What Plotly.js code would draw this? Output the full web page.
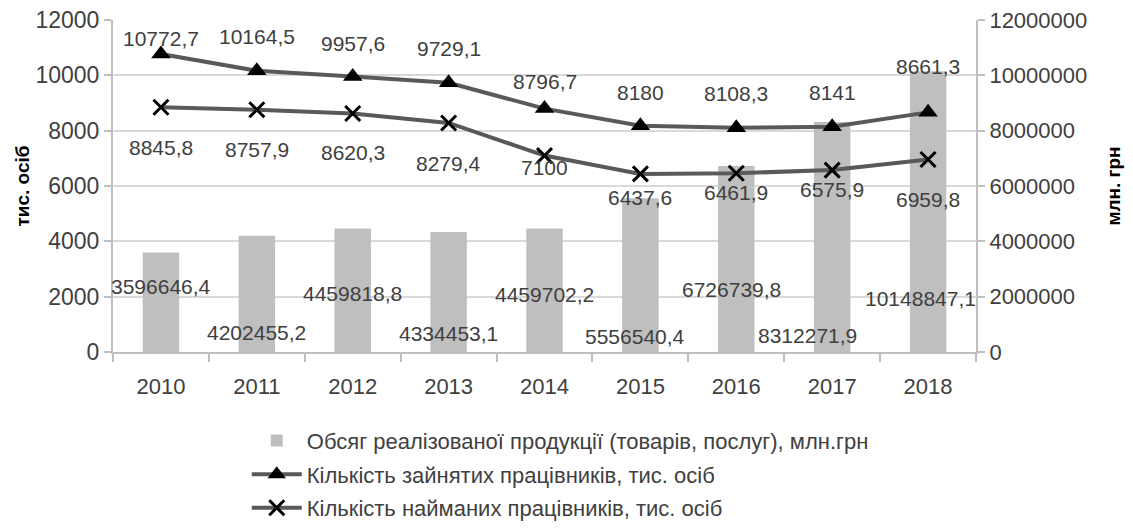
<!DOCTYPE html>
<html>
<head>
<meta charset="utf-8">
<script src="https://cdn.plot.ly/plotly-3.0.1.min.js"></script>
<style>html,body{margin:0;padding:0;background:#fff;}#chart{width:1133px;height:528px;}</style>
</head>
<body>
<div id="chart"></div>
<script>
// ---- data ----
const years = ['2010','2011','2012','2013','2014','2015','2016','2017','2018'];
const salesVolume = [3596646.4, 4202455.2, 4459818.8, 4334453.1, 4459702.2, 5556540.4, 6726739.8, 8312271.9, 10148847.1];
const employed = [10772.7, 10164.5, 9957.6, 9729.1, 8796.7, 8180, 8108.3, 8141, 8661.3];
const hired = [8845.8, 8757.9, 8620.3, 8279.4, 7100, 6437.6, 6461.9, 6575.9, 6959.8];
const seriesNames = [
  'Обсяг реалізованої продукції (товарів, послуг), млн.грн',
  'Кількість зайнятих працівників, тис. осіб',
  'Кількість найманих працівників, тис. осіб'
];

// ---- label placement (style only) ----
const barLabelLevel = [2350000, 720000, 2130000, 680000, 2080000, 560000, 2250000, 600000, 1950000];
const barLabelShift = [0, 0, 0, 0, 0, -5, -5, -25, -8];
const employedLabelShift = [15, 34, 33, 34, 27, 33, 34, 34, 46];
const hiredLabelShift = [40, 40, 39, 41, 12, 24, 19, 19, 40];

const fmt = v => String(v).replace('.', ',');
const FONT = 'Liberation Sans, Arial, sans-serif';
const TXT = '#404040';

const traces = [
  {
    type: 'bar', name: seriesNames[0], x: years, y: salesVolume, yaxis: 'y', legendgroup: 'a',
    marker: {color: '#bfbfbf'}, hoverinfo: 'x+y'
  },
  {
    type: 'scatter', mode: 'lines+markers', name: seriesNames[1], x: years, y: employed, yaxis: 'y2', legendgroup: 'b',
    line: {color: '#595959', width: 4},
    marker: {symbol: 'triangle-up', size: 17, color: '#000'}
  },
  {
    type: 'scatter', mode: 'lines+markers', name: seriesNames[2], x: years, y: hired, yaxis: 'y2', legendgroup: 'c',
    line: {color: '#595959', width: 4},
    marker: {symbol: 'x-thin-open', size: 15, color: '#000', line: {color: '#000', width: 3}}
  }
];

const annotations = [];
years.forEach((yr, i) => {
  annotations.push({x: i, y: barLabelLevel[i], xref: 'x', yref: 'y', text: fmt(salesVolume[i]),
    showarrow: false, xanchor: 'center', yanchor: 'middle', xshift: barLabelShift[i],
    font: {family: FONT, size: 21, color: TXT}});
  annotations.push({x: i, y: employed[i], xref: 'x', yref: 'y2', text: fmt(employed[i]),
    showarrow: false, xanchor: 'center', yanchor: 'middle', yshift: employedLabelShift[i],
    font: {family: FONT, size: 21, color: TXT}});
  annotations.push({x: i, y: hired[i], xref: 'x', yref: 'y2', text: fmt(hired[i]),
    showarrow: false, xanchor: 'center', yanchor: 'middle', yshift: -hiredLabelShift[i],
    font: {family: FONT, size: 21, color: TXT}});
});

const layout = {
  width: 1133, height: 528,
  margin: {l: 113, r: 157, t: 20, b: 176, autoexpand: false},
  paper_bgcolor: '#fff', plot_bgcolor: '#fff',
  font: {family: FONT, size: 21, color: TXT},
  showlegend: true,
  bargap: 0.62,
  xaxis: {
    type: 'category', range: [-0.5, years.length - 0.5], showline: true, linecolor: '#bfbfbf', linewidth: 2,
    ticks: 'outside', tickson: 'boundaries', ticklen: 8, tickcolor: '#bfbfbf', tickwidth: 2,
    ticklabelstandoff: 14,
    showgrid: false, tickfont: {family: FONT, size: 22, color: TXT}, fixedrange: true
  },
  yaxis: {
    side: 'right', range: [0, 12000000], dtick: 2000000, tickformat: 'd',
    showline: true, linecolor: '#bfbfbf', linewidth: 2,
    ticks: 'outside', ticklen: 7, tickcolor: '#bfbfbf', tickwidth: 2,
    showgrid: true, gridcolor: '#d9d9d9', gridwidth: 2, zeroline: false,
    tickfont: {family: FONT, size: 22, color: TXT},
    title: {text: 'млн. грн', font: {family: FONT, size: 19, color: '#000', weight: 'bold'}, standoff: 20}
  },
  yaxis2: {
    overlaying: 'y', side: 'left', range: [0, 12000], dtick: 2000, tickformat: 'd',
    showline: true, linecolor: '#bfbfbf', linewidth: 2,
    ticks: 'outside', ticklen: 7, tickcolor: '#bfbfbf', tickwidth: 2,
    showgrid: false, zeroline: false,
    tickfont: {family: FONT, size: 23, color: TXT},
    title: {text: 'тис. осіб', font: {family: FONT, size: 19, color: '#000', weight: 'bold'}, standoff: 1}
  },
  legend: {
    orientation: 'v', x: 0.155, xanchor: 'left', yref: 'container', y: 0.205, yanchor: 'top', tracegroupgap: 2,
    font: {family: FONT, size: 22, color: TXT}, itemwidth: 50, bgcolor: 'rgba(0,0,0,0)'
  },
  annotations: annotations
};

Plotly.newPlot('chart', traces, layout, {displayModeBar: false, staticPlot: true});
</script>
</body>
</html>
